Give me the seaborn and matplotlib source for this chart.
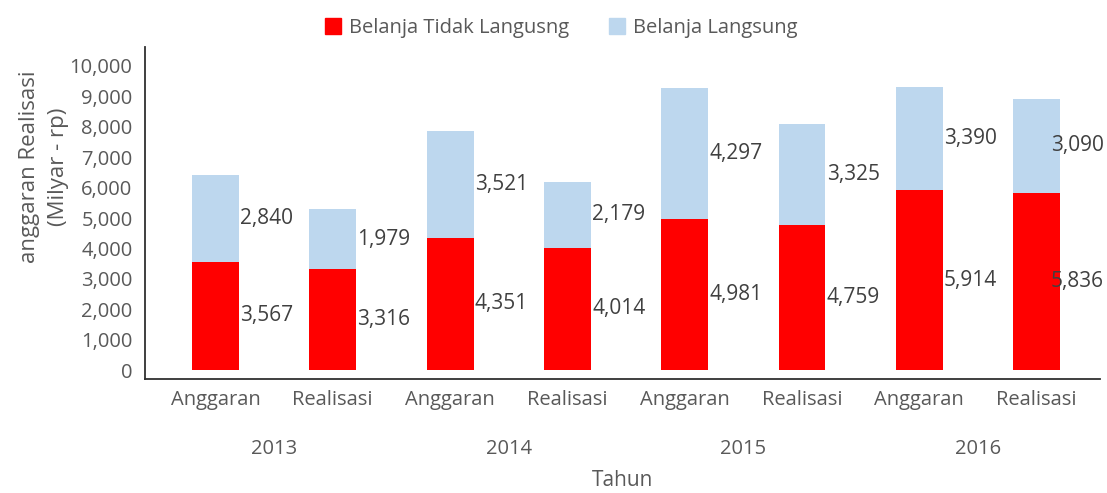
import matplotlib
matplotlib.use("Agg")
import matplotlib.pyplot as plt
from matplotlib.patches import Patch
import seaborn as sns
import pandas as pd

# data
years = ["2013", "2014", "2015", "2016"]
stages = ["Anggaran", "Realisasi"]
tidak_langsung = [3567, 3316, 4351, 4014, 4981, 4759, 5914, 5836]
langsung = [2840, 1979, 3521, 2179, 4297, 3325, 3390, 3090]
y_ticks = [0, 1000, 2000, 3000, 4000, 5000, 6000, 7000, 8000, 9000, 10000]

red = "#FF0000"
blue = "#BDD7EE"
grey = "#595959"

sns.set_theme(style="white")
plt.rcParams['font.family'] = ['Open Sans', 'DejaVu Sans']

df = pd.DataFrame({
    "tahun": [y for y in years for _ in stages],
    "tahap": stages * len(years),
    "tidak_langsung": tidak_langsung,
    "langsung": langsung,
})
df["key"] = df["tahun"] + " " + df["tahap"]
df["total"] = df["tidak_langsung"] + df["langsung"]

fig = plt.figure(figsize=(11.07, 4.93), dpi=100)
ax = fig.add_axes([0.131, 0.2312, 0.8627, 0.6735])

# stacked bars: draw the total in blue, then the lower part in red over it
sns.barplot(data=df, x="key", y="total", color=blue, saturation=1, width=0.4,
            linewidth=0, ax=ax)
sns.barplot(data=df, x="key", y="tidak_langsung", color=red, saturation=1, width=0.4,
            linewidth=0, ax=ax)

# value labels to the right of each bar segment
n = len(df)
for i, row in df.iterrows():
    x = i + 0.2 + 0.01
    if i == n - 1:
        x -= 0.09
    ax.text(x, row["tidak_langsung"] / 2, f"{row['tidak_langsung']:,}",
            ha="left", va="center", fontsize=15, color="#404040")
    ax.text(x, row["tidak_langsung"] + row["langsung"] / 2, f"{row['langsung']:,}",
            ha="left", va="center", fontsize=15, color="#404040")

ax.set_xlim(-0.6, 7.54)
ax.set_ylim(-296, 10625)
ax.set_yticks(y_ticks)
ax.set_yticklabels([f"{v:,}" for v in y_ticks])
ax.set_xticks(range(n))
ax.set_xticklabels(df["tahap"])
ax.tick_params(axis="both", length=0, labelsize=14.5, colors=grey)
ax.tick_params(axis="y", pad=9)
ax.tick_params(axis="x", pad=8)

for side in ["top", "right"]:
    ax.spines[side].set_visible(False)
for side in ["left", "bottom"]:
    ax.spines[side].set_color("#303030")
    ax.spines[side].set_linewidth(1.3)

# year group labels under the stage labels
for k, yr in enumerate(years):
    ax.text(2 * k + 0.5, -0.21, yr, transform=ax.get_xaxis_transform(),
            ha="center", va="center", fontsize=14.5, color=grey)

ax.set_xlabel("Tahun", fontsize=15, color=grey)
ax.xaxis.set_label_coords(0.5, -0.275)
ax.set_ylabel("anggaran Realisasi\n(Milyar - rp)", fontsize=16, color=grey,
              linespacing=1.45)
ax.yaxis.set_label_coords(-0.08, 0.64)

handles = [Patch(color=red, label="Belanja Tidak Langusng"),
           Patch(color=blue, label="Belanja Langsung")]
leg = fig.legend(handles=handles, loc="upper center", bbox_to_anchor=(0.507, 1.0),
                 ncol=2, frameon=False, fontsize=14.5, handlelength=0.8,
                 handleheight=0.8, handletextpad=0.4, columnspacing=2.0)
for t in leg.get_texts():
    t.set_color(grey)

fig.savefig("out.png", dpi=100)
